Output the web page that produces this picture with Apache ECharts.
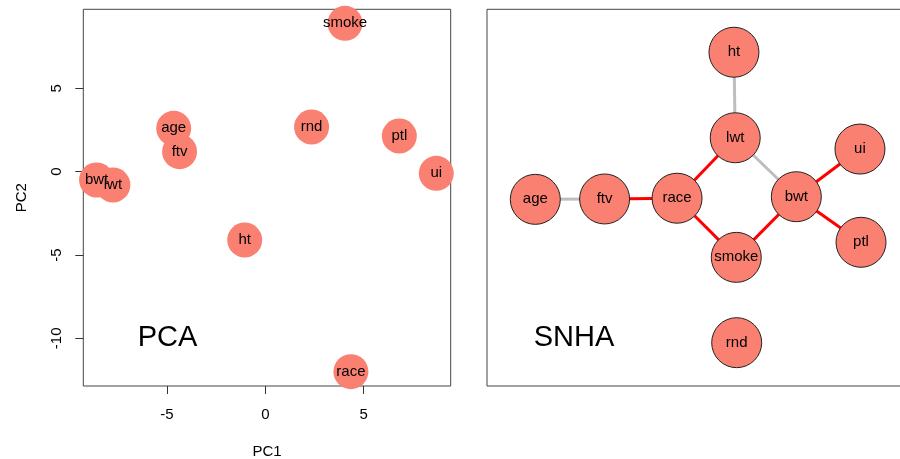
<!DOCTYPE html>
<html>
<head>
<meta charset="utf-8">
<script src="https://cdn.jsdelivr.net/npm/echarts@6/dist/echarts.min.js"></script>
<style>
html,body{margin:0;padding:0;background:#fff;}
#chart{width:900px;height:459px;}
</style>
</head>
<body>
<div id="chart"></div>
<script>
// ---- PCA panel data ----
const pcaVars = ['smoke','age','ftv','rnd','ptl','ui','bwt','lwt','ht','race'];
const pc1 = [4.05, -4.66, -4.36, 2.35, 6.81, 8.69, -8.58, -7.75, -1.05, 4.35];
const pc2 = [8.9, 2.6, 1.2, 2.68, 2.14, -0.1, -0.5, -0.8, -4.1, -12.0];
const xTicks = [-5, 0, 5];
const yTicks = [-10, -5, 0, 5];

// ---- SNHA panel data (layout coordinates) ----
const snhaNodes = ['ht','lwt','ui','age','ftv','race','bwt','smoke','ptl','rnd'];
const snhaX = [0.176, 0.182, 0.776, -0.770, -0.440, -0.095, 0.473, 0.187, 0.781, 0.189];
const snhaY = [0.772, 0.318, 0.258, -0.009, -0.007, -0.003, 0.005, -0.317, -0.237, -0.770];
const edgeFrom = ['age','ftv','race','race','lwt','lwt','bwt','bwt','bwt'];
const edgeTo   = ['ftv','race','lwt','smoke','ht','bwt','ui','ptl','smoke'];
const edgeSign = [1, -1, -1, -1, 1, 1, -1, -1, -1];

const FONT = '"Liberation Sans", Arial, Helvetica, sans-serif';
const salmon = '#FA8072';

const chart = echarts.init(document.getElementById('chart'), null, {renderer: 'canvas'});

const scatterData = pcaVars.map((n, i) => ({name: n, value: [pc1[i], pc2[i]]}));
const graphNodes = snhaNodes.map((n, i) => ({name: n, value: [snhaX[i], snhaY[i]]}));
const graphLinks = edgeFrom.map((s, i) => ({
  source: s, target: edgeTo[i],
  lineStyle: {color: edgeSign[i] < 0 ? '#FF0000' : '#BEBEBE'}
}));

chart.setOption({
  animation: false,
  backgroundColor: '#ffffff',
  textStyle: {fontFamily: FONT},
  grid: [
    {left: 83.3, top: 9.3, width: 367.4, height: 376.7, show: true, containLabel: false,
     outerBoundsMode: 'none',
     borderColor: '#444', borderWidth: 1, backgroundColor: 'transparent'},
    {left: 487, top: 9.3, width: 420, height: 376.7, show: true, containLabel: false,
     outerBoundsMode: 'none',
     borderColor: '#444', borderWidth: 1, backgroundColor: 'transparent'}
  ],
  xAxis: [
    {gridIndex: 0, type: 'value', min: -9.255, max: 9.423,
     axisLine: {show: false, onZero: false}, splitLine: {show: false},
     axisTick: {show: true, customValues: xTicks, length: 8, lineStyle: {color: '#333'}},
     axisLabel: {customValues: xTicks, fontSize: 15, color: '#000', margin: 21, fontFamily: FONT},
     name: 'PC1', nameLocation: 'middle', nameGap: 58,
     nameTextStyle: {fontSize: 15, color: '#000', fontFamily: FONT}},
    {gridIndex: 1, type: 'value', min: -1, max: 1, show: false}
  ],
  yAxis: [
    {gridIndex: 0, type: 'value', min: -12.86, max: 9.742,
     axisLine: {show: false, onZero: false}, splitLine: {show: false},
     axisTick: {show: true, customValues: yTicks, length: 8, lineStyle: {color: '#333'}},
     axisLabel: {customValues: yTicks, fontSize: 15, color: '#000', margin: 19, rotate: 90, fontFamily: FONT},
     name: 'PC2', nameLocation: 'middle', nameGap: 54, nameRotate: 90,
     nameTextStyle: {fontSize: 15, color: '#000', fontFamily: FONT}},
    {gridIndex: 1, type: 'value', min: -1, max: 1, show: false}
  ],
  graphic: [
    {type: 'text', x: 167.5, y: 337.5,
     style: {text: 'PCA', fontSize: 29, fontFamily: FONT, fill: '#000', align: 'center', verticalAlign: 'middle'}},
    {type: 'text', x: 574, y: 337.5,
     style: {text: 'SNHA', fontSize: 29, fontFamily: FONT, fill: '#000', align: 'center', verticalAlign: 'middle'}}
  ],
  series: [
    {type: 'scatter', xAxisIndex: 0, yAxisIndex: 0, data: scatterData,
     symbol: 'circle', symbolSize: 35, clip: true,
     itemStyle: {color: salmon, opacity: 1},
     label: {show: true, position: 'inside', formatter: '{b}', fontSize: 15, color: '#000', fontFamily: FONT},
     emphasis: {disabled: true}},
    {type: 'graph', coordinateSystem: 'cartesian2d', xAxisIndex: 1, yAxisIndex: 1,
     data: graphNodes, links: graphLinks,
     symbol: 'circle', symbolSize: 50,
     itemStyle: {color: salmon, borderColor: '#222', borderWidth: 1},
     lineStyle: {width: 3, opacity: 1, curveness: 0},
     label: {show: true, position: 'inside', formatter: '{b}', fontSize: 15, color: '#000', fontFamily: FONT},
     emphasis: {disabled: true}}
  ]
});
</script>
</body>
</html>
